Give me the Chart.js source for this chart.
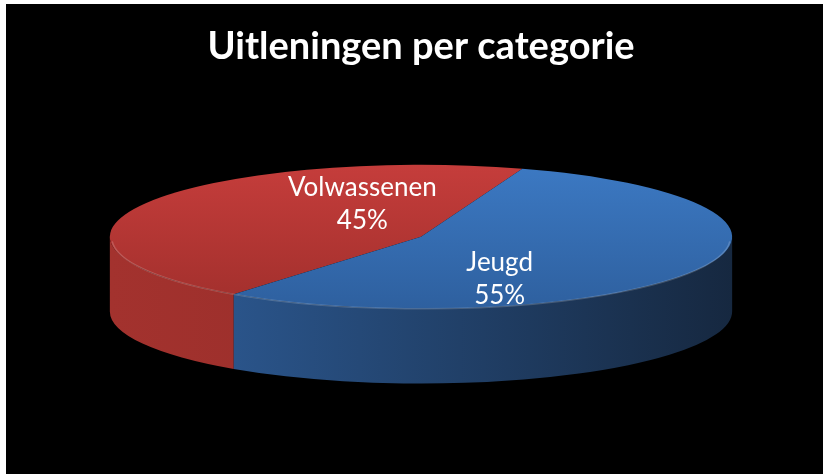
<!DOCTYPE html>
<html lang="nl">
<head>
  <meta charset="UTF-8">
  <title>Uitleningen per categorie</title>
  <style>
    html, body { margin: 0; padding: 0; background: #fff; }
    #wrap {
      position: absolute;
      left: 6px;
      top: 4px;
      width: 817px;
      height: 470px;
      background: #000;
    }
  </style>
  <script src="https://cdn.jsdelivr.net/npm/chart.js"></script>
</head>
<body>
  <div id="wrap"><canvas id="pie"></canvas></div>

  <script>
    // Gegevens
    const categories = ['Volwassenen', 'Jeugd'];
    const shares = [45, 55];

    // Kleuren: bovenvlak (boven/onder) en zijkant (links/rechts)
    const topColors = [['#c53d3b', '#a12f2c'], ['#3c79c3', '#2e609f']];
    const sideColors = [['#a3322e', '#8c2825'], ['#2f5f9c', '#162840']];

    // 3D-vorm van de taart
    const tilt = 0.2315;     // ry / rx
    const widthPart = 0.387; // rx t.o.v. breedte grafiekgebied
    const depthPart = 0.24;  // dikte t.o.v. rx

    function ellipseOf(chart, el) {
      const rx = chart.chartArea.width * widthPart;
      return { cx: el.x, cy: el.y, rx: rx, ry: rx * tilt, depth: rx * depthPart, r: el.outerRadius };
    }

    const pie3d = {
      id: 'pie3d',
      beforeDatasetsDraw(chart) {
        const ctx = chart.ctx;
        const meta = chart.getDatasetMeta(0);
        const e = ellipseOf(chart, meta.data[0]);

        // zijwanden (alleen voorkant zichtbaar)
        meta.data.forEach((arc, i) => {
          const a = arc.startAngle, b = arc.endAngle;
          for (let k = -2; k <= 2; k++) {
            const lo = Math.max(a, k * 2 * Math.PI);
            const hi = Math.min(b, k * 2 * Math.PI + Math.PI);
            if (hi <= lo) continue;
            ctx.save();
            ctx.beginPath();
            ctx.ellipse(e.cx, e.cy, e.rx, e.ry, 0, lo, hi);
            ctx.lineTo(e.cx + e.rx * Math.cos(hi), e.cy + e.ry * Math.sin(hi) + e.depth);
            ctx.ellipse(e.cx, e.cy + e.depth, e.rx, e.ry, 0, hi, lo, true);
            ctx.closePath();
            const g = ctx.createLinearGradient(e.cx - e.rx, 0, e.cx + e.rx, 0);
            g.addColorStop(0, sideColors[i][0]);
            g.addColorStop(1, sideColors[i][1]);
            ctx.fillStyle = g;
            ctx.fill();
            ctx.restore();
          }
        });

        // bovenvlak plat drukken
        ctx.save();
        ctx.translate(e.cx, e.cy);
        ctx.scale(e.rx / e.r, e.ry / e.r);
        ctx.translate(-e.cx, -e.cy);
      },
      afterDatasetsDraw(chart) {
        const ctx = chart.ctx;
        ctx.restore();
        const meta = chart.getDatasetMeta(0);
        const e = ellipseOf(chart, meta.data[0]);

        // lichte rand aan de voorkant van het bovenvlak
        ctx.save();
        ctx.beginPath();
        ctx.ellipse(e.cx, e.cy + 1, e.rx - 2, e.ry - 1, 0, 0.05, Math.PI - 0.05);
        ctx.strokeStyle = 'rgba(255,255,255,0.18)';
        ctx.lineWidth = 1.5;
        ctx.stroke();
        ctx.restore();

        // labels
        ctx.save();
        ctx.fillStyle = '#ffffff';
        ctx.font = '26px Lato, "Open Sans", sans-serif';
        ctx.textAlign = 'center';
        ctx.textBaseline = 'middle';
        const total = shares.reduce((s, v) => s + v, 0);
        meta.data.forEach((arc, i) => {
          const mid = (arc.startAngle + arc.endAngle) / 2;
          const x = e.cx + Math.cos(mid) * e.rx * 0.25 + 10;
          const y = e.cy + Math.sin(mid) * e.ry * 1.11 + 5;
          ctx.fillText(categories[i], x, y - 16.5);
          ctx.fillText(Math.round(shares[i] / total * 100) + '%', x, y + 16.5);
        });
        ctx.restore();
      }
    };

    new Chart(document.getElementById('pie'), {
      type: 'pie',
      data: {
        labels: categories,
        datasets: [{
          data: shares,
          borderWidth: 0,
          backgroundColor: (c) => {
            const area = c.chart.chartArea;
            const cols = topColors[c.dataIndex % topColors.length];
            if (!area) return cols[0];
            const cy = (area.top + area.bottom) / 2;
            const r = Math.min(area.width, area.height) / 2;
            const g = c.chart.ctx.createLinearGradient(0, cy - r, 0, cy + r);
            g.addColorStop(0, cols[0]);
            g.addColorStop(1, cols[1]);
            return g;
          }
        }]
      },
      options: {
        responsive: true,
        maintainAspectRatio: false,
        animation: false,
        rotation: 217,
        layout: { padding: { top: 0, bottom: 70, left: 13, right: 0 } },
        plugins: {
          legend: { display: false },
          tooltip: { enabled: false },
          title: {
            display: true,
            text: 'Uitleningen per categorie',
            color: '#ffffff',
            font: { family: 'Lato, "Open Sans", sans-serif', size: 38, weight: 'bold' },
            padding: { top: 20, bottom: 0 }
          }
        }
      },
      plugins: [pie3d]
    });
  </script>
</body>
</html>
